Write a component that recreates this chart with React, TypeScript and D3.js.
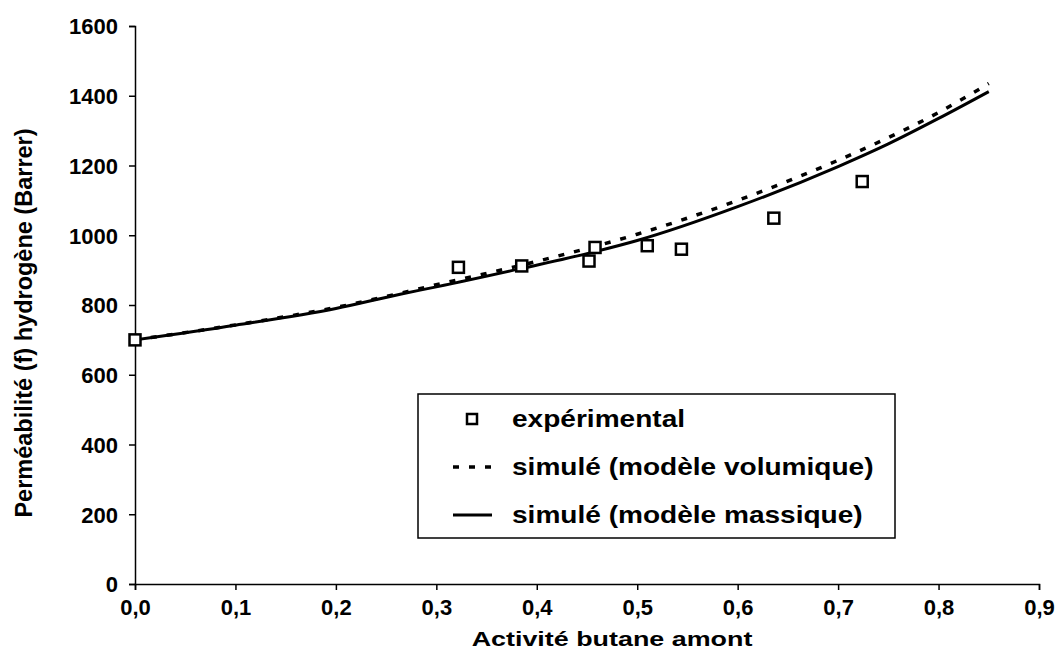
import React, { useEffect, useRef } from "react";
import * as d3 from "d3";

const xTicks = [0, 0.1, 0.2, 0.3, 0.4, 0.5, 0.6, 0.7, 0.8, 0.9];
const yTicks = [0, 200, 400, 600, 800, 1000, 1200, 1400, 1600];

const expX = [0.0, 0.322, 0.385, 0.452, 0.458, 0.51, 0.544, 0.636, 0.724];
const expY = [700, 908, 912, 926, 965, 970, 960, 1049, 1154];

const volX = [0, 0.1, 0.2, 0.3, 0.4, 0.5, 0.6, 0.7, 0.75, 0.8, 0.85];
const volY = [700, 743, 793, 858, 925, 1003, 1100, 1215, 1280, 1352, 1435];

const masX = [0, 0.1, 0.2, 0.264, 0.3, 0.385, 0.458, 0.5, 0.6, 0.7, 0.75, 0.8, 0.85];
const masY = [700, 742, 790, 831, 852, 905, 953, 985, 1082, 1197, 1262, 1335, 1412];

const legendLabels = ["expérimental", "simulé (modèle volumique)", "simulé (modèle massique)"];

const W = 1055;
const H = 655;
const FONT = "'Liberation Sans', Arial, Helvetica, sans-serif";

export default function App() {
  const ref = useRef<SVGSVGElement>(null);

  useEffect(() => {
    const svg = d3.select(ref.current);
    svg.selectAll("*").remove();

    const x = d3.scaleLinear().domain([0, 0.9]).range([135, 1039]);
    const y = d3.scaleLinear().domain([0, 1600]).range([584, 26]);

    // axes
    const gx = svg.append("g").attr("transform", `translate(0,${y(0)})`);
    gx.call(
      d3.axisBottom(x)
        .tickValues(xTicks)
        .tickSize(6)
        .tickPadding(9)
        .tickFormat((d) => d3.format(".1f")(d as number).replace(".", ","))
    );
    const gy = svg.append("g").attr("transform", `translate(${x(0)},0)`);
    gy.call(d3.axisLeft(y).tickValues(yTicks).tickSize(6).tickPadding(11).tickFormat(d3.format("d")));

    [gx, gy].forEach((g) => {
      g.select(".domain").attr("stroke", "#000").attr("stroke-width", 1.5);
      g.selectAll(".tick line").attr("stroke", "#000").attr("stroke-width", 1.5);
      g.selectAll(".tick text")
        .attr("fill", "#000")
        .attr("font-family", FONT)
        .attr("font-weight", "bold")
        .attr("font-size", 22);
    });
    gy.selectAll(".tick text").attr("dy", "0.36em");

    // axis titles
    svg.append("g")
      .attr("transform", "translate(612,646) scale(1.28,1)")
      .append("text")
      .attr("text-anchor", "middle")
      .attr("font-family", FONT)
      .attr("font-weight", "bold")
      .attr("font-size", 21)
      .text("Activité butane amont");

    svg.append("text")
      .attr("transform", `translate(32,323) rotate(-90)`)
      .attr("text-anchor", "middle")
      .attr("font-family", FONT)
      .attr("font-weight", "bold")
      .attr("font-size", 23.5)
      .text("Perméabilité (f) hydrogène (Barrer)");

    // curves
    const line = d3.line<[number, number]>()
      .x((d) => x(d[0]))
      .y((d) => y(d[1]))
      .curve(d3.curveMonotoneX);

    const volData: [number, number][] = volX.map((v, i) => [v, volY[i]]);
    const masData: [number, number][] = masX.map((v, i) => [v, masY[i]]);

    svg.append("path")
      .attr("d", line(masData) || "")
      .attr("fill", "none")
      .attr("stroke", "#000")
      .attr("stroke-width", 3);

    svg.append("path")
      .attr("d", line(volData) || "")
      .attr("fill", "none")
      .attr("stroke", "#000")
      .attr("stroke-width", 3.5)
      .attr("stroke-dasharray", "6,10");

    // experimental squares
    const s = 11;
    svg.append("g")
      .selectAll("rect")
      .data(expX.map((v, i) => [v, expY[i]]))
      .join("rect")
      .attr("x", (d) => x(d[0]) - s / 2)
      .attr("y", (d) => y(d[1]) - s / 2)
      .attr("width", s)
      .attr("height", s)
      .attr("fill", "#fff")
      .attr("stroke", "#000")
      .attr("stroke-width", 2.5);

    // legend
    const lg = svg.append("g");
    lg.append("rect")
      .attr("x", 418)
      .attr("y", 394)
      .attr("width", 477)
      .attr("height", 144)
      .attr("fill", "#fff")
      .attr("stroke", "#000")
      .attr("stroke-width", 1.5);

    const rowY = [419, 467, 515];
    lg.append("rect")
      .attr("x", 467)
      .attr("y", rowY[0] - 5)
      .attr("width", 10)
      .attr("height", 10)
      .attr("fill", "#fff")
      .attr("stroke", "#000")
      .attr("stroke-width", 2.5);
    lg.append("line")
      .attr("x1", 453).attr("x2", 492)
      .attr("y1", rowY[1]).attr("y2", rowY[1])
      .attr("stroke", "#000").attr("stroke-width", 3.5)
      .attr("stroke-dasharray", "6,10");
    lg.append("line")
      .attr("x1", 453).attr("x2", 492)
      .attr("y1", rowY[2]).attr("y2", rowY[2])
      .attr("stroke", "#000").attr("stroke-width", 3);

    lg.selectAll("g.lab")
      .data(legendLabels)
      .join("g")
      .attr("class", "lab")
      .attr("transform", (_, i) => `translate(512,${rowY[i]}) scale(1.22,1)`)
      .append("text")
      .attr("dy", "0.36em")
      .attr("font-family", FONT)
      .attr("font-weight", "bold")
      .attr("font-size", 23)
      .text((d) => d);
  }, []);

  return (
    <svg
      ref={ref}
      width={W}
      height={H}
      style={{ position: "absolute", left: 0, top: 0, background: "#fff" }}
    />
  );
}
